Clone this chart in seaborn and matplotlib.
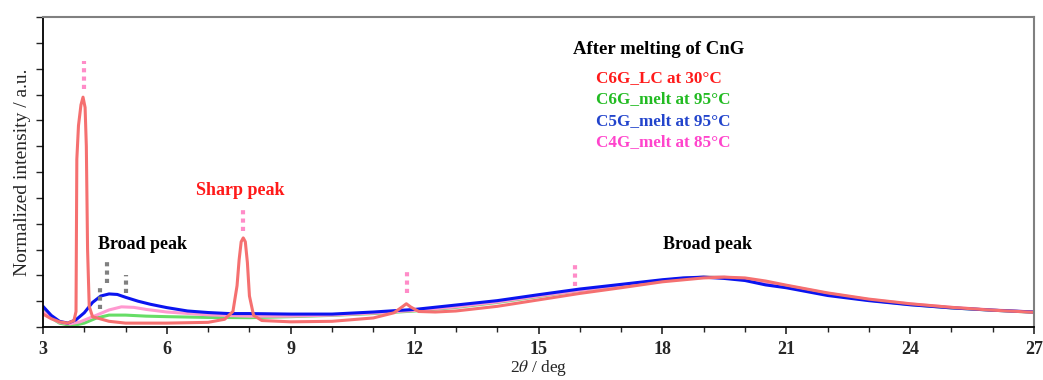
import matplotlib
matplotlib.use("Agg")
import matplotlib.pyplot as plt
import seaborn as sns
import pandas as pd
from matplotlib.ticker import MultipleLocator

# C6G_LC at 30 C (red)
c6g_lc_x = [3.0, 3.2, 3.4, 3.6, 3.75, 3.8, 3.82, 3.86, 3.92, 3.97, 4.02, 4.05, 4.08, 4.12, 4.2,
            4.6, 5.0, 6.0, 7.0, 7.4, 7.6, 7.7, 7.75, 7.8, 7.85, 7.9, 7.95, 8.0, 8.1, 8.3,
            9.0, 10.0, 11.0, 11.5, 11.7, 11.8, 11.9, 12.1, 12.5, 13.0, 14.0, 15.0, 16.0, 17.0,
            18.0, 19.0, 19.5, 20.0, 20.5, 21.0, 22.0, 23.0, 24.0, 25.0, 26.0, 27.0]
c6g_lc_y = [0.5, 0.32, 0.2, 0.15, 0.25, 0.6, 6.5, 7.8, 8.6, 8.9, 8.5, 7.0, 3.0, 0.8, 0.4,
            0.22, 0.15, 0.15, 0.18, 0.3, 0.6, 1.6, 2.6, 3.3, 3.45, 3.3, 2.5, 1.2, 0.45, 0.25,
            0.2, 0.22, 0.35, 0.55, 0.78, 0.9, 0.78, 0.6, 0.58, 0.62, 0.8, 1.05, 1.3, 1.52,
            1.75, 1.9, 1.93, 1.9, 1.78, 1.62, 1.32, 1.08, 0.9, 0.76, 0.65, 0.57]

# C6G_melt at 95 C (green)
c6g_melt_x = [3.0, 3.2, 3.4, 3.6, 3.8, 4.0, 4.3, 4.6, 5.0, 5.5, 6.0, 7.0, 8.0, 9.0, 10.0, 11.0,
              12.0, 13.0, 14.0, 15.0, 16.0, 17.0, 18.0, 18.5, 19.0, 19.5, 20.0, 20.5, 21.0,
              22.0, 23.0, 24.0, 25.0, 26.0, 27.0]
c6g_melt_y = [0.65, 0.35, 0.15, 0.08, 0.08, 0.15, 0.35, 0.46, 0.46, 0.42, 0.40, 0.37, 0.36, 0.40,
              0.45, 0.52, 0.62, 0.76, 0.95, 1.18, 1.42, 1.62, 1.80, 1.88, 1.93, 1.92, 1.85, 1.70,
              1.56, 1.26, 1.04, 0.87, 0.74, 0.65, 0.57]

# C5G_melt at 95 C (blue)
c5g_melt_x = [3.0, 3.2, 3.4, 3.6, 3.8, 4.0, 4.2, 4.4, 4.6, 4.8, 5.0, 5.3, 5.6, 6.0, 6.5, 7.0,
              7.5, 8.0, 9.0, 10.0, 11.0, 12.0, 13.0, 14.0, 15.0, 16.0, 17.0, 18.0, 18.5, 19.0,
              19.5, 20.0, 20.5, 21.0, 22.0, 23.0, 24.0, 25.0, 26.0, 27.0]
c5g_melt_y = [0.80, 0.45, 0.22, 0.15, 0.28, 0.55, 0.95, 1.20, 1.28, 1.26, 1.15, 1.00, 0.88, 0.75,
              0.62, 0.56, 0.52, 0.52, 0.50, 0.50, 0.58, 0.68, 0.85, 1.02, 1.25, 1.47, 1.65, 1.83,
              1.90, 1.93, 1.88, 1.80, 1.63, 1.52, 1.22, 1.02, 0.86, 0.74, 0.65, 0.58]

# C4G_melt at 85 C (pink)
c4g_melt_x = [3.0, 3.2, 3.4, 3.65, 3.9, 4.1, 4.3, 4.6, 4.9, 5.2, 5.5, 6.0, 7.0, 8.0, 9.0, 10.0,
              11.0, 12.0, 13.0, 14.0, 15.0, 16.0, 17.0, 18.0, 18.5, 19.0, 19.5, 20.0, 20.5,
              21.0, 22.0, 23.0, 24.0, 25.0, 26.0, 27.0]
c4g_melt_y = [0.6, 0.35, 0.18, 0.12, 0.2, 0.33, 0.46, 0.66, 0.78, 0.76, 0.68, 0.58, 0.47, 0.42,
              0.42, 0.46, 0.54, 0.64, 0.78, 0.97, 1.2, 1.42, 1.62, 1.80, 1.88, 1.93, 1.93, 1.87,
              1.73, 1.6, 1.3, 1.06, 0.89, 0.76, 0.66, 0.58]

# dotted peak markers: x, y bottom, y top
sharp_mark_x = [3.99, 7.84, 11.81, 15.88]
sharp_mark_lo = [9.2, 3.7, 1.3, 1.6]
sharp_mark_hi = [10.3, 4.6, 2.2, 2.55]
broad_mark_x = [4.38, 4.55, 5.0]
broad_mark_lo = [0.7, 1.7, 1.3]
broad_mark_hi = [1.6, 2.6, 2.0]

legend_labels = ["C6G_LC at 30°C", "C6G_melt at 95°C", "C5G_melt at 95°C", "C4G_melt at 85°C"]
legend_colors = ["#ff1a1a", "#22bb22", "#2244cc", "#ff44cc"]

sns.set_style("ticks")
plt.rcParams['font.family'] = ['Liberation Serif', 'DejaVu Serif']
plt.rcParams['mathtext.fontset'] = 'stix'

fig = plt.figure(figsize=(10.43, 3.8), dpi=100)
ax = fig.add_axes([0.0412, 0.1395, 0.9502, 0.8155])

series = [
    (c6g_melt_x, c6g_melt_y, "#66dd66"),
    (c4g_melt_x, c4g_melt_y, "#ff99d0"),
    (c5g_melt_x, c5g_melt_y, "#0a14f0"),
    (c6g_lc_x, c6g_lc_y, "#f57070"),
]
for xs, ys, col in series:
    df = pd.DataFrame({"x": xs, "y": ys})
    sns.lineplot(data=df, x="x", y="y", color=col, linewidth=2.2, ax=ax, sort=False)

for x, lo, hi in zip(sharp_mark_x, sharp_mark_lo, sharp_mark_hi):
    ax.plot([x, x], [lo, hi], color="#ff8cc8", linewidth=3, linestyle=(0, (1, 1)))
for x, lo, hi in zip(broad_mark_x, broad_mark_lo, broad_mark_hi):
    ax.plot([x, x], [lo, hi], color="#808080", linewidth=3, linestyle=(0, (1, 1)))

ax.text(7.77, 5.3, "Sharp peak", color="#ff1a1a", fontsize=13, fontweight="bold",
        ha="center", va="center")
ax.text(5.42, 3.2, "Broad peak", color="black", fontsize=13, fontweight="bold",
        ha="center", va="center")
ax.text(19.1, 3.2, "Broad peak", color="black", fontsize=13, fontweight="bold",
        ha="center", va="center")

ax.text(15.83, 10.74, "After melting of CnG", color="black", fontsize=13.5, fontweight="bold",
        ha="left", va="center")
for i, (lab, col) in enumerate(zip(legend_labels, legend_colors)):
    ax.text(16.39, 9.65 - i * 0.83, lab, color=col, fontsize=12.3, fontweight="bold",
            ha="left", va="center")

ax.set_xlim(3, 27)
ax.set_ylim(0, 12)
ax.xaxis.set_major_locator(MultipleLocator(3))
ax.xaxis.set_minor_locator(MultipleLocator(1))
ax.yaxis.set_major_locator(MultipleLocator(1))
ax.set_yticklabels([])
ax.tick_params(axis="x", which="major", direction="out", length=5, width=1.2, labelsize=13, pad=5)
ax.tick_params(axis="x", which="minor", direction="out", length=3.5, width=1.0)
ax.tick_params(axis="y", which="major", direction="out", length=5, width=1.0)
for lab in ax.get_xticklabels():
    lab.set_fontweight("bold")

ax.set_xlabel("2$\\it{\\theta}$ / deg", fontsize=12.5, labelpad=0)
ax.set_ylabel("Normalized intensity / a.u.", fontsize=14, labelpad=0)

for side in ["left", "bottom"]:
    ax.spines[side].set_color("black")
    ax.spines[side].set_linewidth(1.3)
for side in ["top", "right"]:
    ax.spines[side].set_visible(True)
    ax.spines[side].set_color("#808080")
    ax.spines[side].set_linewidth(1.5)

fig.savefig("out.png", dpi=100)
